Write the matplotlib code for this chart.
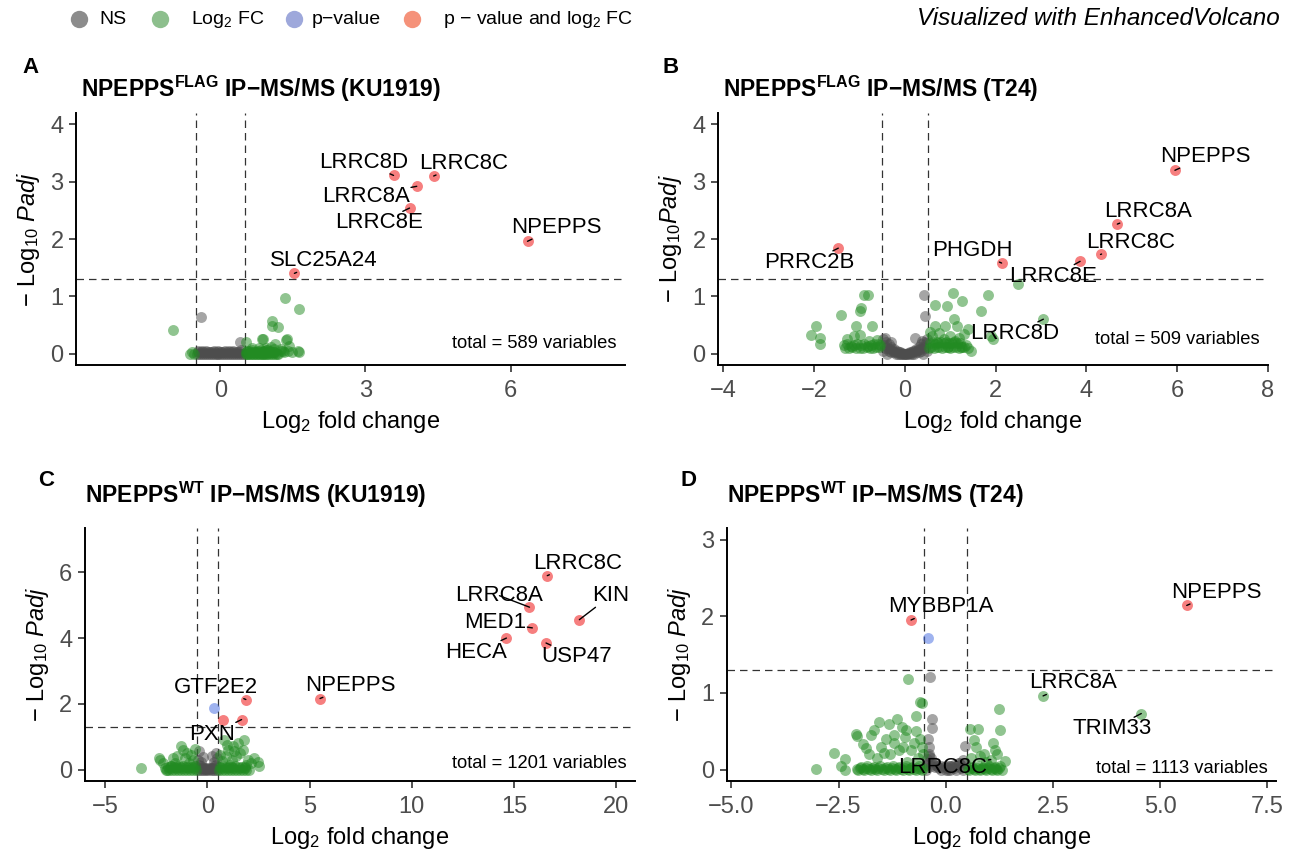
import matplotlib
matplotlib.use("Agg")
import matplotlib.pyplot as plt

plt.rcParams['font.family'] = ['Liberation Sans', 'DejaVu Sans']
plt.rcParams['mathtext.fontset'] = 'custom'
plt.rcParams['mathtext.rm'] = 'Liberation Sans'
plt.rcParams['mathtext.it'] = 'Liberation Sans:italic'
plt.rcParams['mathtext.bf'] = 'Liberation Sans:bold'

# ---------------- data ----------------
FC_CUT = 0.5
P_CUT = 1.301  # -log10(0.05)

# Panel A: NPEPPS-FLAG KU1919
a_x = [3.58, 4.41, 4.06, 3.91, 6.35, 1.53,
       1.33, 1.63, -0.40, -0.97, 1.06, 1.07, 1.20, 0.41, 0.52, 0.86, 0.88, 1.38, 1.36,
       1.12, 1.42, 1.62, 1.05, 1.25, 0.95, 1.30,
       -0.62, -0.58, -0.55,
       -0.48, -0.44, -0.40, -0.36, -0.32, -0.28, -0.24, -0.20, -0.16, -0.12, -0.08, -0.04,
       0.00, 0.04, 0.08, 0.12, 0.16, 0.20, 0.24, 0.28, 0.32, 0.36, 0.40, 0.44, 0.48,
       -0.46, -0.38, -0.30, -0.22, -0.14, -0.06, 0.02, 0.10, 0.18, 0.26, 0.34, 0.42,
       -0.47, -0.41, -0.35, -0.29, -0.23, -0.17, -0.11, -0.05, 0.01, 0.07, 0.13, 0.19,
       0.25, 0.31, 0.37, 0.43,
       0.52, 0.55, 0.58, 0.61, 0.64, 0.67, 0.70, 0.73, 0.76, 0.79, 0.82, 0.85, 0.88, 0.91,
       0.94, 0.97, 1.00, 1.04, 1.08, 1.12, 1.16, 1.20,
       0.53, 0.57, 0.63, 0.69, 0.75, 0.81, 0.87, 0.93, 0.99, 1.05, 1.11,
       0.65, 0.80, 0.95, 1.10,
       0.54, 0.60, 0.66, 0.72, 0.78, 0.84, 0.90, 0.96, 1.02, 1.10, 1.25, 1.32, 1.40, 1.48, 1.60]
a_y = [3.11, 3.10, 2.92, 2.54, 1.96, 1.40,
       0.97, 0.78, 0.64, 0.41, 0.57, 0.48, 0.46, 0.20, 0.20, 0.26, 0.25, 0.26, 0.24,
       0.16, 0.13, 0.03, 0.12, 0.08, 0.06, 0.04,
       0.00, 0.02, 0.00,
       0.00, 0.00, 0.00, 0.00, 0.00, 0.00, 0.00, 0.00, 0.00, 0.00, 0.00, 0.00,
       0.00, 0.00, 0.00, 0.00, 0.00, 0.00, 0.00, 0.00, 0.00, 0.00, 0.00, 0.00, 0.00,
       0.05, 0.04, 0.05, 0.03, 0.04, 0.05, 0.03, 0.05, 0.04, 0.05, 0.03, 0.06,
       0.02, 0.02, 0.02, 0.02, 0.02, 0.02, 0.02, 0.02, 0.02, 0.02, 0.02, 0.02,
       0.02, 0.02, 0.02, 0.02,
       0.00, 0.00, 0.00, 0.00, 0.00, 0.00, 0.00, 0.00, 0.00, 0.00, 0.00, 0.00, 0.00, 0.00,
       0.00, 0.00, 0.00, 0.00, 0.00, 0.00, 0.00, 0.00,
       0.02, 0.02, 0.02, 0.02, 0.02, 0.02, 0.02, 0.02, 0.02, 0.02, 0.02,
       0.10, 0.09, 0.10, 0.08,
       0.05, 0.04, 0.06, 0.03, 0.05, 0.07, 0.04, 0.06, 0.05, 0.03, 0.04, 0.02, 0.05, 0.03, 0.04]
a_lab = ["LRRC8D", "LRRC8C", "LRRC8A", "LRRC8E", "NPEPPS", "SLC25A24"]
a_lab_pt = [0, 1, 2, 3, 4, 5]
a_lab_x = [2.97, 5.03, 3.01, 3.28, 6.95, 2.13]
a_lab_y = [3.34, 3.32, 2.75, 2.28, 2.20, 1.62]

# Panel B: NPEPPS-FLAG T24
b_x = [5.95, 4.68, 4.31, 3.86, 2.13, -1.47,
       2.50, 3.05, 1.84, 1.05, 1.26, 0.66, 0.92, 1.67, 1.09, 0.66, 0.89, 1.15, 1.40, 1.95, 1.90,
       -0.90, -0.81, -0.97, -1.00, -1.41, -1.96, -2.07, -1.87, -1.87, -1.09, -0.72, -1.13, -0.99,
       -1.27, -0.80, -0.62, 0.55, 0.75, 1.00, 1.20, 1.30, 0.60, 0.70, 0.85, 1.10, 1.45, 1.35, 0.95, 1.25,
       -1.35, -1.28, -1.20, -1.12, -1.05, -0.98, -0.90, -0.82, -0.75, -0.68, -0.60, -0.54,
       -1.32, -1.24, -1.16, -1.08, -1.00, -0.92, -0.84, -0.76, -0.70, -0.64, -0.57,
       0.52, 0.58, 0.64, 0.70, 0.76, 0.82, 0.88, 0.94, 1.00, 1.06, 1.12, 1.18, 1.24, 1.30, 1.38,
       0.55, 0.61, 0.67, 0.73, 0.79, 0.85, 0.91, 0.97, 1.03, 1.09, 1.15, 1.21,
       0.41, 0.45, -0.44, 0.23, 0.38, -0.30,
       -0.48, -0.42, -0.36, -0.30, -0.24, -0.18, -0.12, -0.06, 0.00, 0.06, 0.12, 0.18, 0.24, 0.30,
       0.36, 0.42, 0.48,
       -0.45, -0.35, -0.25, -0.15, -0.05, 0.05, 0.15, 0.25, 0.35, 0.45, -0.40, 0.40, -0.48, 0.48,
       -0.20, -0.10, 0.10, 0.20, -0.30, 0.30,
       -0.46, -0.38, -0.32, -0.26, -0.20, -0.14, -0.08, -0.02, 0.04, 0.10, 0.16, 0.22, 0.28,
       0.34, 0.40, 0.46]
b_y = [3.20, 2.26, 1.73, 1.61, 1.58, 1.84,
       1.21, 0.60, 1.03, 1.06, 0.92, 0.84, 0.83, 0.74, 0.61, 0.48, 0.48, 0.48, 0.42, 0.25, 0.30,
       1.03, 1.03, 0.80, 0.75, 0.68, 0.48, 0.32, 0.28, 0.16, 0.48, 0.48, 0.31, 0.32,
       0.25, 0.22, 0.24, 0.38, 0.36, 0.30, 0.28, 0.35, 0.30, 0.20, 0.25, 0.22, 0.05, 0.15, 0.12, 0.12,
       0.15, 0.16, 0.14, 0.15, 0.17, 0.15, 0.16, 0.14, 0.15, 0.17, 0.16, 0.15,
       0.10, 0.09, 0.11, 0.10, 0.09, 0.10, 0.11, 0.09, 0.10, 0.11, 0.12,
       0.10, 0.12, 0.10, 0.11, 0.12, 0.10, 0.11, 0.12, 0.10, 0.11, 0.12, 0.10, 0.11, 0.12, 0.10,
       0.18, 0.20, 0.17, 0.19, 0.20, 0.18, 0.21, 0.19, 0.18, 0.20, 0.19, 0.18,
       1.03, 0.65, 0.28, 0.28, 0.22, 0.20,
       0.25, 0.20, 0.16, 0.12, 0.08, 0.05, 0.03, 0.01, 0.00, 0.01, 0.03, 0.05, 0.08, 0.12,
       0.16, 0.20, 0.25,
       0.10, 0.05, 0.02, 0.00, 0.00, 0.00, 0.00, 0.02, 0.05, 0.10, 0.00, 0.00, 0.05, 0.05,
       0.00, 0.00, 0.00, 0.00, 0.03, 0.03,
       0.15, 0.10, 0.08, 0.05, 0.03, 0.02, 0.00, 0.00, 0.00, 0.01, 0.02, 0.04, 0.06,
       0.08, 0.12, 0.18]
b_lab = ["NPEPPS", "LRRC8A", "LRRC8C", "LRRC8E", "PHGDH", "PRRC2B", "LRRC8D"]
b_lab_pt = [0, 1, 2, 3, 4, 5, 7]
b_lab_x = [6.63, 5.36, 4.97, 3.27, 1.49, -2.10, 2.41]
b_lab_y = [3.44, 2.48, 1.94, 1.35, 1.80, 1.59, 0.35]

# Panel C: NPEPPS-WT KU1919
c_x = [16.63, 15.76, 15.90, 14.63, 16.57, 18.20, 5.51, 1.88, 0.31, 0.76, 1.67,
       -3.27, -2.35, -2.20, -2.00, -1.80, -1.29, -1.20, -1.50, -1.00, -0.80, -0.60, 1.78, 1.47,
       1.27, 2.49, 2.29, 2.50, 2.00, 1.90, 1.60, 1.00, 0.80, 0.90, 1.20, -1.60, -1.40, -2.10,
       -0.70, -0.90, -1.10, 0.60, 0.70, 1.10, 1.40, 1.75, 2.15, -2.30, -1.70, 0.95, 1.30,
       -2.05, -1.90, -1.75, -1.60, -1.45, -1.30, -1.15, -1.00, -0.85, -0.70, -0.56,
       -1.95, -1.80, -1.65, -1.50, -1.35, -1.20, -1.05, -0.90, -0.75, -0.62,
       0.55, 0.70, 0.85, 1.00, 1.15, 1.30, 1.45, 1.60, 1.75, 1.90, 2.05,
       0.62, 0.77, 0.92, 1.07, 1.22, 1.37, 1.52, 1.67, 1.82,
       -0.45, -0.35, -0.25, -0.15, -0.05, 0.05, 0.15, 0.25, 0.35, 0.45,
       -0.40, -0.30, -0.20, -0.10, 0.00, 0.10, 0.20, 0.30, 0.40,
       -0.45, -0.30, 0.30, 0.45, 0.40, -0.40, 0.20, -0.20,
       -0.42, -0.28, -0.14, 0.00, 0.14, 0.28, 0.42,
       -1.85, -1.55, -1.25, -0.95, -0.65, 0.65, 0.95, 1.25, 1.55, 1.85]
c_y = [5.90, 4.94, 4.31, 4.00, 3.85, 4.56, 2.16, 2.13, 1.87, 1.52, 1.52,
       0.05, 0.35, 0.20, 0.00, 0.10, 0.73, 0.60, 0.40, 0.50, 0.45, 0.62, 0.91, 0.81,
       0.71, 0.22, 0.35, 0.10, 0.30, 0.15, 0.50, 0.60, 0.90, 0.40, 0.30, 0.20, 0.10, 0.05,
       0.30, 0.20, 0.35, 0.45, 0.25, 0.15, 0.40, 0.60, 0.20, 0.30, 0.35, 0.75, 0.55,
       0.00, 0.00, 0.00, 0.00, 0.00, 0.00, 0.00, 0.00, 0.00, 0.00, 0.00,
       0.08, 0.10, 0.07, 0.09, 0.08, 0.10, 0.07, 0.09, 0.08, 0.10,
       0.00, 0.00, 0.00, 0.00, 0.00, 0.00, 0.00, 0.00, 0.00, 0.00, 0.00,
       0.08, 0.10, 0.07, 0.09, 0.08, 0.10, 0.07, 0.09, 0.08,
       0.00, 0.00, 0.00, 0.00, 0.00, 0.00, 0.00, 0.00, 0.00, 0.00,
       0.15, 0.10, 0.06, 0.03, 0.02, 0.03, 0.06, 0.10, 0.15,
       0.30, 0.22, 0.22, 0.35, 0.50, 0.55, 0.40, 0.38,
       0.06, 0.05, 0.04, 0.05, 0.04, 0.05, 0.06,
       0.04, 0.05, 0.04, 0.05, 0.04, 0.04, 0.05, 0.04, 0.05, 0.04]
c_lab = ["LRRC8C", "LRRC8A", "MED1", "HECA", "USP47", "KIN", "NPEPPS", "GTF2E2", "PXN"]
c_lab_pt = [0, 1, 2, 3, 4, 5, 6, 7, 10]
c_lab_x = [18.10, 14.29, 14.08, 13.14, 18.04, 19.73, 6.98, 0.41, 0.24]
c_lab_y = [6.28, 5.29, 4.48, 3.57, 3.43, 5.29, 2.55, 2.51, 1.08]

# Panel D: NPEPPS-WT T24
d_x = [5.62, -0.81, -0.41,
       -0.36, -0.33, -0.31, 0.46, -0.40, -0.35, -0.30, 0.10, -0.20, 0.20, 0.30, -0.10, 0.00,
       0.10, 0.25, 0.40, -0.45, -0.38, -0.42, 0.05, 0.35,
       -0.87, 2.27, 4.56, -0.60, -0.55, 1.24, 1.26, -1.13, -1.32, -1.03, -0.93, -1.68, -1.75,
       -2.10, -2.08, -1.93, -2.61, -2.36, -3.02, -2.36, -2.45, 0.56, 0.75, 0.66, 1.38, 1.05,
       1.20, 0.90, 0.70, 0.60, -1.50, -1.40, -1.20, -1.00, -0.80, -0.70, -0.60, -0.55, -0.52,
       -1.60, -1.80, -1.30, -0.90, -0.65, -0.70, -1.55, -1.20, -0.95, 1.10, 0.95,
       -2.05, -1.90, -1.75, -1.60, -1.45, -1.30, -1.15, -1.00, -0.85, -0.70, -0.56,
       -1.98, -1.83, -1.68, -1.53, -1.38, -1.23, -1.08, -0.93, -0.78, -0.63,
       0.55, 0.68, 0.81, 0.94, 1.07, 1.20, 1.30, 0.62, 0.75, 0.88, 1.01, 1.14, 1.26,
       -0.45, -0.35, -0.25, -0.15, -0.05, 0.05, 0.15, 0.25, 0.35, 0.45,
       -1.10, -1.45, -0.75, -1.85, 0.80, 1.15,
       -2.08, -2.01, -1.94, -1.87, -1.80, -1.72, -1.64, -1.57, -1.49, -1.41, -1.34, -1.26,
       -1.19, -1.11, -1.04, -0.96, -0.89, -0.81, -0.74, -0.66, -0.59, -0.53,
       0.52, 0.58, 0.65, 0.72, 0.79, 0.86, 0.92, 0.99, 1.05, 1.12, 1.18, 1.24,
       -0.40, -0.30, -0.20, -0.10, 0.00, 0.10, 0.20, 0.30, 0.40, -0.44, -0.38]
d_y = [2.14, 1.95, 1.72,
       1.21, 0.66, 0.54, 0.31, 0.20, 0.15, 0.10, 0.05, 0.05, 0.02, 0.08, 0.00, 0.00,
       0.00, 0.00, 0.00, 0.00, 0.30, 0.40, 0.00, 0.02,
       1.18, 0.96, 0.73, 0.88, 0.87, 0.79, 0.51, 0.66, 0.59, 0.56, 0.52, 0.52, 0.45,
       0.46, 0.44, 0.33, 0.22, 0.14, 0.01, 0.00, 0.05, 0.53, 0.53, 0.39, 0.11, 0.13,
       0.20, 0.20, 0.30, 0.15, 0.30, 0.40, 0.35, 0.30, 0.25, 0.50, 0.40, 0.30, 0.20,
       0.15, 0.20, 0.20, 0.10, 0.15, 0.70, 0.62, 0.45, 0.42, 0.35, 0.10,
       0.00, 0.00, 0.00, 0.00, 0.00, 0.00, 0.00, 0.00, 0.00, 0.00, 0.00,
       0.03, 0.04, 0.03, 0.04, 0.03, 0.04, 0.03, 0.04, 0.03, 0.04,
       0.00, 0.00, 0.00, 0.00, 0.00, 0.00, 0.00, 0.03, 0.04, 0.03, 0.04, 0.03, 0.04,
       0.06, 0.04, 0.03, 0.02, 0.03, 0.02, 0.03, 0.04, 0.06, 0.08,
       0.25, 0.22, 0.35, 0.28, 0.18, 0.25,
       0.01, 0.02, 0.01, 0.02, 0.01, 0.02, 0.01, 0.02, 0.01, 0.02, 0.01, 0.02,
       0.01, 0.02, 0.01, 0.02, 0.01, 0.02, 0.01, 0.02, 0.01, 0.02,
       0.01, 0.02, 0.01, 0.02, 0.01, 0.02, 0.01, 0.02, 0.01, 0.02, 0.01, 0.02,
       0.10, 0.07, 0.05, 0.04, 0.04, 0.05, 0.06, 0.08, 0.12, 0.14, 0.18]
d_lab = ["NPEPPS", "MYBBP1A", "LRRC8A", "TRIM33", "LRRC8C"]
d_lab_pt = [0, 1, 25, 26, 49]
d_lab_x = [6.32, -0.12, 2.98, 3.87, -0.07]
d_lab_y = [2.31, 2.12, 1.13, 0.53, 0.02]

panel_letters = ["A", "B", "C", "D"]
panel_cells = ["KU1919", "T24", "KU1919", "T24"]
panel_tags = ["FLAG", "FLAG", "WT", "WT"]
panel_totals = [589, 509, 1201, 1113]
panel_ymax = [4, 4, 7, 3]
panel_xticks = [[0, 3, 6], [-4, -2, 0, 2, 4, 6, 8], [-5, 0, 5, 10, 15, 20],
                [-5.0, -2.5, 0.0, 2.5, 5.0, 7.5]]
panel_yticks = [[0, 1, 2, 3, 4], [0, 1, 2, 3, 4], [0, 2, 4, 6], [0, 1, 2, 3]]

legend_names = ["NS", "Log$_{2}$ FC", "p\u2212value", "p \u2212 value and log$_{2}$ FC"]

# ---------------- styling ----------------
POINT_COLS = ["#4D4D4D", "#228B22", "#4169E1", "#EE0000"]
LEG_COLS = ["#8c8c8c", "#8dbf8d", "#9ea8db", "#f5927a"]

W, H = 1294, 850
fig = plt.figure(figsize=(W / 100, H / 100), dpi=100)

# axes rectangles in pixels: left, right, top, bottom
rects = [(76, 625, 113, 365), (718, 1268, 113, 365),
         (85, 635, 528, 781), (727, 1276, 528, 781)]
title_pos = [(81, 89), (723, 89), (85, 495), (727, 495)]
letter_pos = [(22, 67), (662, 67), (38, 480), (680, 480)]
total_frac = [0.085, 0.10, 0.07, 0.05]

panels = [
    (a_x, a_y, a_lab, a_lab_pt, a_lab_x, a_lab_y),
    (b_x, b_y, b_lab, b_lab_pt, b_lab_x, b_lab_y),
    (c_x, c_y, c_lab, c_lab_pt, c_lab_x, c_lab_y),
    (d_x, d_y, d_lab, d_lab_pt, d_lab_x, d_lab_y),
]


def category(x, y):
    fc = abs(x) > FC_CUT
    pv = y > P_CUT
    if fc and pv:
        return 3
    if pv:
        return 2
    if fc:
        return 1
    return 0


for i, (xs, ys, labs, lab_pt, lx, ly) in enumerate(panels):
    l, r, t, b = rects[i]
    ax = fig.add_axes([l / W, 1 - b / H, (r - l) / W, (b - t) / H])
    cats = [category(x, y) for x, y in zip(xs, ys)]
    for c in range(4):
        px = [x for x, k in zip(xs, cats) if k == c]
        py = [y for y, k in zip(ys, cats) if k == c]
        if px:
            ax.scatter(px, py, s=62, color=POINT_COLS[c], alpha=0.5, linewidths=0, zorder=3)
    # limits like EnhancedVolcano: data range +/- 1.5, plus ggplot 5 % expansion
    xlo, xhi = min(xs) - 1.5, max(xs) + 1.5
    ex = 0.05 * (xhi - xlo)
    ax.set_xlim(xlo - ex, xhi + ex)
    ym = panel_ymax[i]
    ax.set_ylim(-0.05 * ym, ym * 1.05)
    for v in (-FC_CUT, FC_CUT):
        ax.axvline(v, color="#333333", lw=0.9, ls=(0, (6, 4)), zorder=2)
    ax.axhline(P_CUT, color="#333333", lw=0.9, ls=(0, (6, 4)), zorder=2)
    for name, pi, tx, ty in zip(labs, lab_pt, lx, ly):
        ax.annotate(name, xy=(xs[pi], ys[pi]), xytext=(tx, ty), textcoords="data",
                    ha="center", va="center", fontsize=16, zorder=5,
                    bbox=dict(boxstyle="square,pad=0.05", fc="none", ec="none"),
                    arrowprops=dict(arrowstyle="-", color="black", lw=1.0,
                                    shrinkA=0, shrinkB=0))
    ax.text(0.985, total_frac[i], f"total = {panel_totals[i]} variables", transform=ax.transAxes,
            ha="right", va="center", fontsize=13.2, zorder=6)
    for s in ("top", "right"):
        ax.spines[s].set_visible(False)
    for s in ("left", "bottom"):
        ax.spines[s].set_linewidth(1.4)
        ax.spines[s].set_color("black")
    ax.set_xticks(panel_xticks[i])
    ax.set_yticks(panel_yticks[i])
    if i == 3:
        ax.set_xticklabels([f"{v:.1f}".replace("-", "\u2212") for v in panel_xticks[i]])
    ax.tick_params(axis="both", length=5, width=1.2, color="#333333", labelsize=17,
                   labelcolor="#4D4D4D", pad=4)
    ax.tick_params(axis="x", pad=6)
    ax.set_xlabel("Log$_{2}$ fold change", fontsize=17, labelpad=5)
    if i == 1:
        ax.set_ylabel("\u2212 Log$_{10}$$\\it{Padj}$", fontsize=17, labelpad=6)
    else:
        ax.set_ylabel("\u2212 Log$_{10}$ $\\it{Padj}$", fontsize=17, labelpad=6)
    ax.patch.set_visible(False)

# overlay for titles, letters, legend
ov = fig.add_axes([0, 0, 1, 1])
ov.set_xlim(0, W)
ov.set_ylim(H, 0)
ov.axis("off")
ov.patch.set_visible(False)

for i in range(4):
    tx, ty = title_pos[i]
    ov.text(tx, ty, r"$\mathbf{NPEPPS}^{\mathbf{%s}}$" % panel_tags[i] + " IP\u2212MS/MS (%s)" % panel_cells[i],
            fontsize=16.5, fontweight="bold", ha="left", va="center")
    lx0, ly0 = letter_pos[i]
    ov.text(lx0, ly0, panel_letters[i], fontsize=16, fontweight="bold", ha="left", va="center")

leg_circle_x = [79, 160, 294, 412]
leg_text_x = [99, 191, 312, 443]
for cx, txx, col, name in zip(leg_circle_x, leg_text_x, LEG_COLS, legend_names):
    ov.plot([cx], [19], marker="o", ms=12.5, color=col, mec="none", ls="none")
    ov.text(txx, 19, name, fontsize=14, ha="left", va="center")

ov.text(1280, 18, "Visualized with EnhancedVolcano", fontsize=17.5, style="italic",
        ha="right", va="center")

fig.savefig("out.png", dpi=100)
